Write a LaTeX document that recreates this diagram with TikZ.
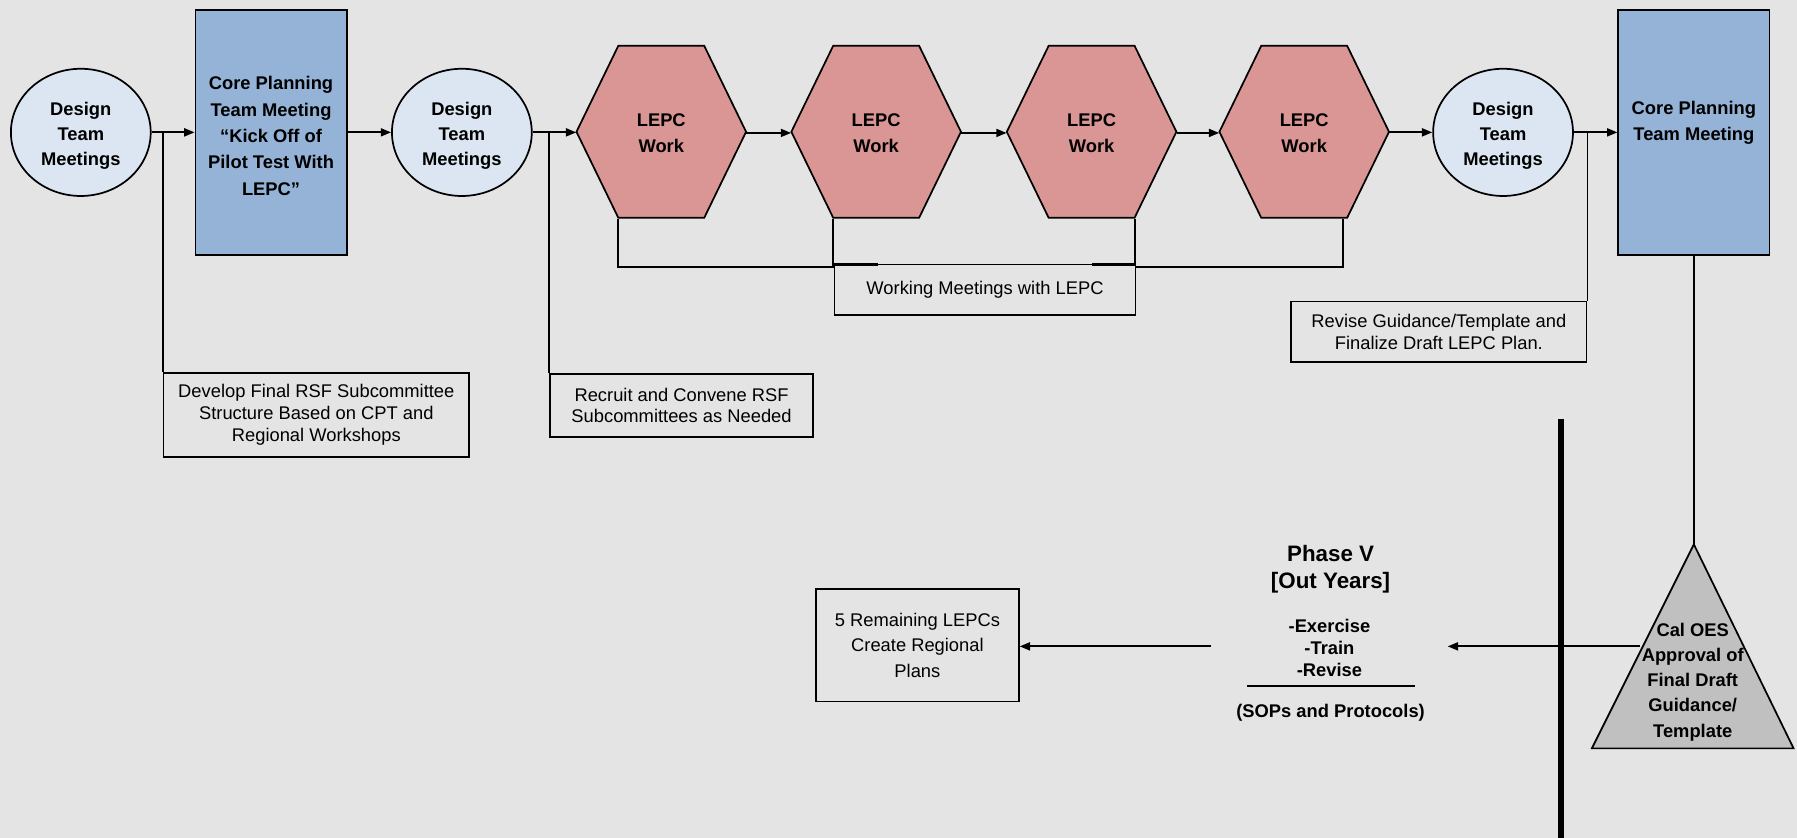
\documentclass[tikz,border=0pt]{standalone}
\usepackage{fontspec}
\setmainfont{Liberation Sans}
\usetikzlibrary{arrows.meta,shapes.geometric,calc}
\definecolor{bgcol}{RGB}{228,228,228}
\definecolor{circfill}{RGB}{220,230,242}
\definecolor{rectfill}{RGB}{149,179,215}
\definecolor{hexfill}{RGB}{217,150,148}
\definecolor{trifill}{RGB}{192,192,192}
\tikzset{
 conn/.style={line width=1.6pt, draw=black},
 arr/.style={conn, -{Triangle[length=9pt,width=7pt]}},
 circnode/.style={ellipse, draw, line width=1.5pt, fill=circfill, minimum width=122pt, minimum height=111pt, inner sep=0pt},
 corebox/.style={rectangle, draw, line width=1.5pt, fill=rectfill, minimum width=132pt, minimum height=214pt, inner sep=0pt},
 boldtext/.style={align=center, inner sep=0pt, font=\fontsize{16}{23}\selectfont\bfseries},
 hexlabel/.style={rectangle, minimum width=148pt, minimum height=150pt, inner sep=0pt, align=center, font=\fontsize{16}{23}\selectfont\bfseries},
 notebox/.style={rectangle, draw, line width=1.5pt, fill=bgcol, inner sep=0pt, align=center, font=\fontsize{16}{19}\selectfont},
}
\newcommand\hexat[3]{%
  \draw[line width=1.5pt, fill=hexfill] (#2-74,#3) -- (#2-37.5,#3-75) -- (#2+37.5,#3-75) -- (#2+74,#3) -- (#2+37.5,#3+75) -- (#2-37.5,#3+75) -- cycle;
  \node[hexlabel] (#1) at (#2,#3+1) {LEPC\\Work};}
\begin{document}
\begin{tikzpicture}[x=1pt,y=-1pt]
\fill[bgcol] (0,0) rectangle (1568,731);
\useasboundingbox (0,0) rectangle (1568,731);

% top row
\node[circnode] (d1) at (70.5,115.5) {};
\node[boldtext, font=\fontsize{16}{22}\selectfont\bfseries] (d1t) at (70.5,118.5) {Design\\Team\\Meetings};
\node[corebox] (c1) at (236.5,115.5) {};
\node[boldtext] (c1t) at (236.5,118.5) {Core Planning\\Team Meeting\\“Kick Off of\\Pilot Test With\\LEPC”};
\node[circnode] (d2) at (403,115.5) {};
\node[boldtext, font=\fontsize{16}{22}\selectfont\bfseries] (d2t) at (403,118.5) {Design\\Team\\Meetings};
\hexat{h1}{577}{115}
\hexat{h2}{764.5}{115}
\hexat{h3}{952.5}{115}
\hexat{h4}{1138}{115}
\node[circnode] (d3) at (1311.5,115.5) {};
\node[boldtext, font=\fontsize{16}{22}\selectfont\bfseries] (d3t) at (1311.5,118.5) {Design\\Team\\Meetings};
\node[corebox] (c2) at (1478,115.5) {};
\node[boldtext] (c2t) at (1478,107) {Core Planning\\Team Meeting};

% note boxes
\node[notebox, minimum width=266.5pt, minimum height=73.3pt] (dev) at (276,362) {Develop Final RSF Subcommittee\\Structure Based on CPT and\\Regional Workshops};
\node[notebox, minimum width=229.8pt, minimum height=54.4pt] (rec) at (594.7,353.8) {Recruit and Convene RSF\\Subcommittees as Needed};
\node[notebox, minimum width=257.8pt, minimum height=53pt] (rev) at (1255.5,289.5) {Revise Guidance/Template and\\Finalize Draft LEPC Plan.};
\node[notebox, minimum width=177pt, minimum height=98pt, font=\fontsize{16}{22}\selectfont] (rem) at (800.5,563) {5 Remaining LEPCs\\Create Regional\\Plans};

% triangle
\draw[line width=1.5pt, fill=trifill] (1478,475) coordinate (triT) -- (1565,653) -- (1389,653) -- cycle;
\node[boldtext, font=\fontsize{16}{22}\selectfont\bfseries] (tri) at (1477,595) {Cal OES\\Approval of\\Final Draft\\Guidance/\\Template};
\coordinate (tw) at (1431,564);

% phase V
\node[align=center, inner sep=0pt, font=\fontsize{19.5}{24}\selectfont\bfseries] (ph) at (1161,496.5) {Phase V\\{[}Out Years{]}};
\node[boldtext, font=\fontsize{16}{19}\selectfont\bfseries, minimum width=206pt] (list) at (1160,565.5) {-Exercise\\-Train\\-Revise};
\draw[line width=1.8pt] (1088,598.6) -- (1235,598.6);
\node[boldtext] (sops) at (1161,622) {(SOPs and Protocols)};

% connectors top row
\draw[arr] (d1.east) -- (d1.east -| c1.west);
\draw[arr] (c1.east |- d2.east) -- (d2.west);
\draw[arr] (d2.east) -- (d2.east -| h1.west);
\draw[arr] (h1.east) -- (h2.west);
\draw[arr] (h2.east) -- (h3.west);
\draw[arr] (h3.east) -- (h4.west);
\draw[arr] (h4.east |- d3.east) -- (d3.west);
\draw[arr] (d3.east) -- (d3.east -| c2.west);

% junction lines to notes
\draw[conn] (dev.north west) -- (dev.north west |- d1.east);
\draw[conn] (rec.north west) -- (rec.north west |- d2.east);
\draw[conn] (rev.north east) -- (rev.north east |- d3.east);
\draw[conn] (c2.south) -- (triT);

% working meetings
\draw[conn] ([xshift=-37.5pt]h1.south) -- ++(0,42) -| ([xshift=34pt]h4.south);
\draw[conn] ([xshift=-37.5pt]h2.south) -- ++(0,42);
\draw[conn] ([xshift=37.5pt]h3.south) -- ++(0,42);
\node[notebox, minimum width=262.7pt, minimum height=44.2pt] (wm) at (859.5,252.8) {Working Meetings with LEPC};
\draw[line width=2.6pt] ([yshift=-0.6pt]wm.north west) -- ++(39,0);
\draw[line width=2.6pt] ([yshift=-0.6pt]wm.north east) -- ++(-39,0);

% bottom arrows
\draw[line width=4.5pt] (1362,366) -- (1362,731);
\draw[arr] (tw) -- (tw -| list.east);
\draw[arr] (list.west |- tw) -- (tw -| rem.east);
\end{tikzpicture}
\end{document}
